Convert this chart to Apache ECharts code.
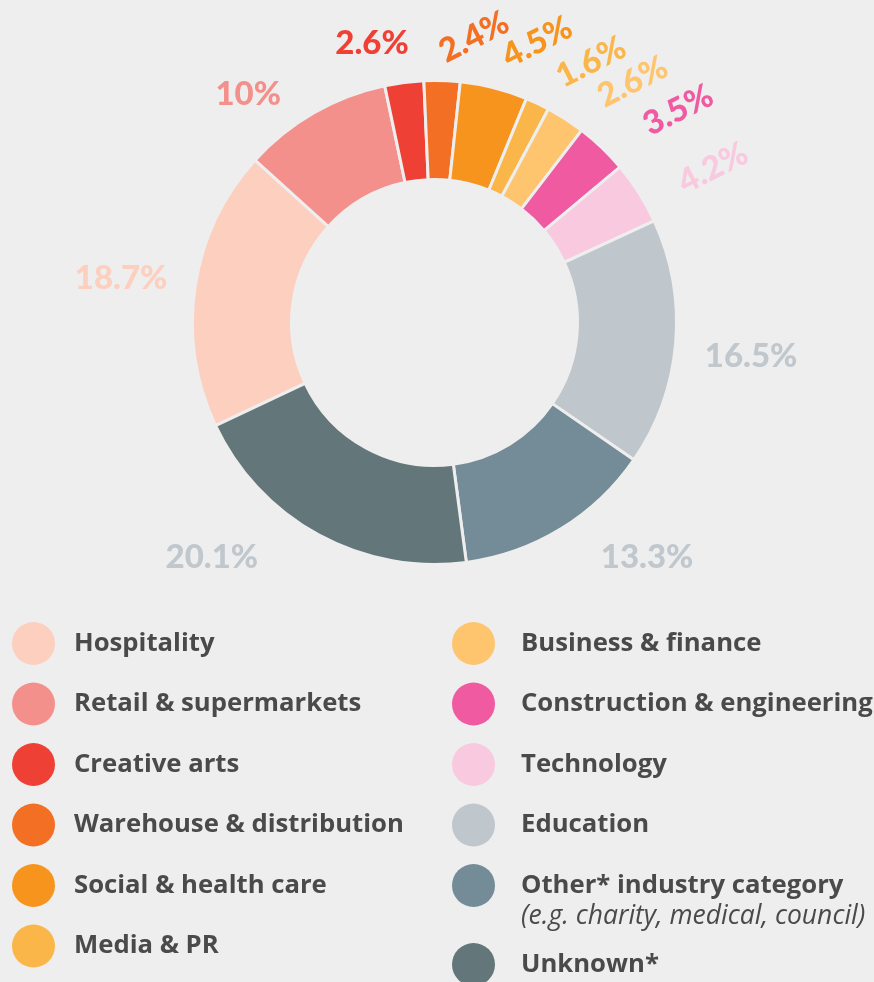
<!DOCTYPE html>
<html><head><meta charset="utf-8">
<script src="https://cdn.jsdelivr.net/npm/echarts@6/dist/echarts.min.js"></script>
<style>html,body{margin:0;padding:0;background:#eeeeee}#c{width:874px;height:982px}</style>
</head><body><div id="c"></div>
<script>
const categories = ['Hospitality','Retail & supermarkets','Creative arts','Warehouse & distribution','Social & health care','Media & PR','Business & finance','Construction & engineering','Technology','Education','Other* industry category','Unknown*'];
const values = [18.7, 10, 2.6, 2.4, 4.5, 1.6, 2.6, 3.5, 4.2, 16.5, 13.3, 20.1];
const sliceColors = ['#fccfbf','#f4908c','#ef4036','#f26f24','#f7941d','#fbb649','#fec56e','#ef5aa1','#f9c9df','#bfc6cc','#738c97','#637679'];
const labelColors = ['#fccfbf','#f4908c','#ef4036','#f26f24','#f7941d','#fbb649','#fec56e','#ef5aa1','#f9c9df','#c0c7cd','#c0c7cd','#c0c7cd'];
// label placement tuning (distance from centre, angular nudge, rotation)
const labelRadius = [316.6, 294.2, 286.4, 288.2, 298.6, 303.9, 311.8, 323.2, 318.5, 318.4, 316.5, 323.3];
const labelShift = [0.4, 9.4, 5.4, -6.1, -5.9, -5.8, -6.7, -5.2, -3.4, -1.3, 10.7, -14.9];
const labelRotate = [0, 0, 0, 27, 27, 27, 27, 27, 27, 0, 0, 0];

const CX = 434.5, CY = 322.5, R0 = 143, R1 = 242, START = 205.2;
const total = values.reduce((a, b) => a + b, 0);
const cum = []; let acc = 0; values.forEach(v => { cum.push(acc); acc += v; });

const chart = echarts.init(document.getElementById('c'));
const legendText = {fontFamily: 'Open Sans', fontWeight: 'bold', fontSize: 25.7, color: '#4a4a4a'};
const legendBase = {orient: 'vertical', padding: 0, itemWidth: 43, itemHeight: 43, itemGap: 17.5, icon: 'circle', selectedMode: false, itemStyle: {borderWidth: 0}};
chart.setOption({
  backgroundColor: '#eeeeee',
  animation: false,
  title: {
    text: '(e.g. charity, medical, council)', left: 521, top: 903, padding: 0,
    textStyle: {fontFamily: 'Open Sans', fontStyle: 'italic', fontWeight: 'normal', fontSize: 26.5, color: '#4a4a4a'}
  },
  legend: [
    Object.assign({left: 12, top: 622, data: categories.slice(0, 6), textStyle: Object.assign({padding: [0, 0, 0, 14]}, legendText)}, legendBase),
    Object.assign({left: 452, top: 622, data: categories.slice(6, 11), textStyle: Object.assign({padding: [0, 0, 0, 21]}, legendText)}, legendBase),
    Object.assign({left: 452, top: 943, data: categories.slice(11), textStyle: Object.assign({padding: [0, 0, 0, 21]}, legendText)}, legendBase)
  ],
  series: [{
    type: 'pie',
    center: [CX, CY],
    radius: [R0, R1],
    startAngle: START,
    avoidLabelOverlap: false,
    itemStyle: {borderColor: '#eeeeee', borderWidth: 3},
    label: {show: true, position: 'outside', formatter: '{c}%', fontFamily: 'Lato', fontWeight: 900, fontSize: 33},
    labelLine: {show: false},
    emphasis: {disabled: true},
    labelLayout: function (p) {
      const i = p.dataIndex;
      const mid = START - 360 * (cum[i] + values[i] / 2) / total + labelShift[i];
      const a = mid * Math.PI / 180;
      return {x: CX + labelRadius[i] * Math.cos(a), y: CY - labelRadius[i] * Math.sin(a), align: 'center', verticalAlign: 'middle', rotate: labelRotate[i]};
    },
    data: categories.map((n, i) => ({name: n, value: values[i], itemStyle: {color: sliceColors[i]}, label: {color: labelColors[i]}}))
  }]
});
</script></body></html>
